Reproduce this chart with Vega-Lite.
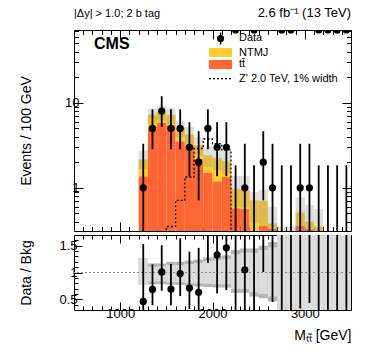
{
  "$schema": "https://vega.github.io/schema/vega-lite/v6.json",
  "padding": {"left": 18, "top": 6, "right": 5, "bottom": 5},
  "background": "white",
  "config": {
    "font": "Liberation Sans",
    "view": {"stroke": "black", "strokeWidth": 1},
    "axis": {"domain": false, "grid": false, "tickColor": "black", "labelColor": "black", "titleColor": "black", "labelFontSize": 13, "titleFontSize": 14, "titleFontWeight": "normal", "tickWidth": 1, "labelFont": "Liberation Sans", "titleFont": "Liberation Sans", "labelOverlap": false}
  },
  "datasets": {
    "bins": [
      {"lo":1200,"hi":1300,"m":1250,"tt":1.37,"tot":2.16,"elo":1.66,"ehi":2.74,"n":1,"nlo":0.17,"nhi":3.3,"r":0.46,"rlo":0.08,"rhi":1.53,"dlo":0.77,"dhi":1.27,"blo":0.77,"bhi":1.27},
      {"lo":1300,"hi":1400,"m":1350,"tt":5.2,"tot":7.3,"elo":5.69,"ehi":8.54,"n":5,"nlo":2.84,"nhi":8.38,"r":0.685,"rlo":0.39,"rhi":1.15,"dlo":0.78,"dhi":1.17,"blo":0.83,"bhi":1.11},
      {"lo":1400,"hi":1500,"m":1450,"tt":5.85,"tot":7.9,"elo":6.16,"ehi":9.24,"n":8,"nlo":5.23,"nhi":11.95,"r":1.01,"rlo":0.66,"rhi":1.51,"dlo":0.78,"dhi":1.17,"blo":0.83,"bhi":1.11},
      {"lo":1500,"hi":1600,"m":1550,"tt":5.45,"tot":7.2,"elo":5.54,"ehi":8.64,"n":5,"nlo":2.84,"nhi":8.38,"r":0.69,"rlo":0.39,"rhi":1.16,"dlo":0.77,"dhi":1.2,"blo":0.82,"bhi":1.14},
      {"lo":1600,"hi":1700,"m":1650,"tt":3.53,"tot":5.1,"elo":3.93,"ehi":6.12,"n":5,"nlo":2.84,"nhi":8.38,"r":0.98,"rlo":0.56,"rhi":1.64,"dlo":0.77,"dhi":1.2,"blo":0.82,"bhi":1.14},
      {"lo":1700,"hi":1800,"m":1750,"tt":3.16,"tot":4.25,"elo":3.19,"ehi":5.19,"n":3,"nlo":1.37,"nhi":5.92,"r":0.71,"rlo":0.32,"rhi":1.39,"dlo":0.75,"dhi":1.22,"blo":0.8,"bhi":1.16},
      {"lo":1800,"hi":1900,"m":1850,"tt":2.2,"tot":3.17,"elo":2.35,"ehi":3.93,"n":2,"nlo":0.71,"nhi":4.64,"r":0.63,"rlo":0.22,"rhi":1.46,"dlo":0.74,"dhi":1.24,"blo":0.79,"bhi":1.18},
      {"lo":1900,"hi":2000,"m":1950,"tt":1.5,"tot":2.41,"elo":1.76,"ehi":3.08,"n":5,"nlo":2.84,"nhi":8.38,"r":2.07,"rlo":1.18,"rhi":3.48,"dlo":0.73,"dhi":1.28,"blo":0.79,"bhi":1.21},
      {"lo":2000,"hi":2100,"m":2050,"tt":1.19,"tot":2.25,"elo":1.62,"ehi":2.93,"n":3,"nlo":1.37,"nhi":5.92,"r":1.33,"rlo":0.61,"rhi":2.63,"dlo":0.72,"dhi":1.3,"blo":0.78,"bhi":1.23},
      {"lo":2100,"hi":2200,"m":2150,"tt":1.34,"tot":2.05,"elo":1.48,"ehi":2.71,"n":3,"nlo":1.37,"nhi":5.92,"r":1.46,"rlo":0.67,"rhi":2.89,"dlo":0.72,"dhi":1.32,"blo":0.78,"bhi":1.25},
      {"lo":2200,"hi":2300,"m":2250,"tt":0.575,"tot":0.97,"elo":0.6,"ehi":1.38,"n":0,"nlo":0.1,"nhi":1.84,"r":0,"rlo":0,"rhi":1.9,"dlo":0.62,"dhi":1.42,"blo":0.69,"bhi":1.34},
      {"lo":2300,"hi":2400,"m":2350,"tt":0.565,"tot":0.95,"elo":0.59,"ehi":1.38,"n":1,"nlo":0.17,"nhi":3.3,"r":1.05,"rlo":0.18,"rhi":3.47,"dlo":0.62,"dhi":1.45,"blo":0.69,"bhi":1.37},
      {"lo":2400,"hi":2500,"m":2450,"tt":0.29,"tot":0.71,"elo":0.39,"ehi":0.9,"n":0,"nlo":0.1,"nhi":1.84,"r":0,"rlo":0,"rhi":2.59,"dlo":0.55,"dhi":1.45,"blo":0.63,"bhi":1.37},
      {"lo":2500,"hi":2600,"m":2550,"tt":0.36,"tot":0.7,"elo":0.36,"ehi":0.95,"n":2,"nlo":0.71,"nhi":4.64,"r":2.86,"rlo":1.01,"rhi":6.6,"dlo":0.52,"dhi":1.5,"blo":0.6,"bhi":1.42},
      {"lo":2600,"hi":2700,"m":2650,"tt":0.33,"tot":0.38,"elo":0.17,"ehi":0.6,"n":1,"nlo":0.17,"nhi":3.3,"r":2.63,"rlo":0.45,"rhi":8.7,"dlo":0.46,"dhi":1.57,"blo":0.55,"bhi":1.47},
      {"lo":2700,"hi":2800,"m":2750,"tt":0.15,"tot":0.2,"elo":0.05,"ehi":0.35,"n":0,"nlo":0.1,"nhi":1.84,"r":0,"rlo":0,"rhi":9.2,"dlo":0.2,"dhi":1.8,"blo":0.2,"bhi":1.8},
      {"lo":2800,"hi":2900,"m":2850,"tt":0.15,"tot":0.2,"elo":0.05,"ehi":0.35,"n":0,"nlo":0.1,"nhi":1.84,"r":0,"rlo":0,"rhi":9.2,"dlo":0.2,"dhi":1.8,"blo":0.2,"bhi":1.8},
      {"lo":2900,"hi":3000,"m":2950,"tt":0.36,"tot":0.51,"elo":0.23,"ehi":0.77,"n":1,"nlo":0.17,"nhi":3.3,"r":1.96,"rlo":0.33,"rhi":6.5,"dlo":0.2,"dhi":1.8,"blo":0.2,"bhi":1.8},
      {"lo":3000,"hi":3100,"m":3050,"tt":0.33,"tot":0.4,"elo":0.18,"ehi":0.63,"n":1,"nlo":0.17,"nhi":3.3,"r":2.5,"rlo":0.43,"rhi":8.25,"dlo":0.2,"dhi":1.8,"blo":0.2,"bhi":1.8},
      {"lo":3100,"hi":3200,"m":3150,"tt":0.31,"tot":0.35,"elo":0.14,"ehi":0.56,"n":0,"nlo":0.1,"nhi":1.84,"r":0,"rlo":0,"rhi":5.3,"dlo":0.2,"dhi":1.8,"blo":0.2,"bhi":1.8},
      {"lo":3200,"hi":3300,"m":3250,"tt":null,"tot":null,"elo":null,"ehi":null,"n":0,"nlo":0.1,"nhi":1.84,"r":null,"rlo":0,"rhi":10,"dlo":0.2,"dhi":1.8,"blo":0.2,"bhi":1.8},
      {"lo":3300,"hi":3400,"m":3350,"tt":null,"tot":null,"elo":null,"ehi":null,"n":0,"nlo":0.1,"nhi":1.84,"r":null,"rlo":0,"rhi":10,"dlo":0.2,"dhi":1.8,"blo":0.2,"bhi":1.8},
      {"lo":3400,"hi":3500,"m":3450,"tt":null,"tot":null,"elo":null,"ehi":null,"n":0,"nlo":0.1,"nhi":1.84,"r":null,"rlo":0,"rhi":10,"dlo":0.2,"dhi":1.8,"blo":0.2,"bhi":1.8}
    ],
    "zprime": [
      {"e":1400,"v":0.1},{"e":1500,"v":0.35},{"e":1600,"v":0.71},{"e":1700,"v":1.34},{"e":1800,"v":2.9},{"e":1900,"v":3.75},{"e":2000,"v":3.3},{"e":2100,"v":2.8},{"e":2200,"v":0.1}
    ]
  },
  "bounds": "flush",
  "spacing": 4,
  "vconcat": [
    {
      "width": 277,
      "height": 201,
      "data": {"name": "bins"},
      "resolve": {"axis": {"x": "independent", "y": "independent"}},
      "layer": [
        {
          "mark": {"type": "rect", "clip": true, "color": "#ff6633"},
          "encoding": {
            "x": {"field": "lo", "type": "quantitative", "scale": {"domain": [500, 3500], "nice": false, "zero": false},
              "axis": {"orient": "bottom", "values": [600,700,800,900,1000,1100,1200,1300,1400,1500,1600,1700,1800,1900,2000,2100,2200,2300,2400,2500,2600,2700,2800,2900,3000,3100,3200,3300,3400], "labels": false, "title": null,
                "tickSize": {"expr": "datum.value % 1000 === 0 ? -9 : -4.5"}}},
            "x2": {"field": "hi"},
            "y": {"field": "tt", "type": "quantitative", "scale": {"type": "log", "domain": [0.31, 72], "nice": false},
              "axis": {"orient": "left", "values": [0.4,0.5,0.6,0.7,0.8,0.9,1,2,3,4,5,6,7,8,9,10,20,30,40,50,60,70], "format": "~g",
                "labelExpr": "datum.value === 1 || datum.value === 10 ? datum.label : ''",
                "tickSize": {"expr": "datum.value === 1 || datum.value === 10 ? -9 : -4.5"},
                "labelPadding": 4, "title": "Events / 100 GeV", "titleX": -41, "titleY": 100.5}},
            "y2": {"datum": 0.1}
          }
        },
        {
          "mark": {"type": "rect", "clip": true, "color": "#ffcc33"},
          "encoding": {
            "x": {"field": "lo", "type": "quantitative",
              "axis": {"orient": "top", "values": [600,700,800,900,1000,1100,1200,1300,1400,1500,1600,1700,1800,1900,2000,2100,2200,2300,2400,2500,2600,2700,2800,2900,3000,3100,3200,3300,3400], "labels": false, "title": null,
                "tickSize": {"expr": "datum.value % 1000 === 0 ? -9 : -4.5"}}},
            "x2": {"field": "hi"},
            "y": {"field": "tot", "type": "quantitative",
              "axis": {"orient": "right", "values": [0.4,0.5,0.6,0.7,0.8,0.9,1,2,3,4,5,6,7,8,9,10,20,30,40,50,60,70], "labels": false, "title": null,
                "tickSize": {"expr": "datum.value === 1 || datum.value === 10 ? -9 : -4.5"}}},
            "y2": {"field": "tt"}
          }
        },
        {
          "mark": {"type": "rect", "clip": true, "color": "#8c8c8c", "opacity": 0.28},
          "encoding": {
            "x": {"field": "lo", "type": "quantitative", "axis": null},
            "x2": {"field": "hi"},
            "y": {"field": "elo", "type": "quantitative", "axis": null},
            "y2": {"field": "ehi"}
          }
        },
        {
          "data": {"name": "zprime"},
          "mark": {"type": "line", "clip": true, "interpolate": "step-after", "strokeDash": [2, 2], "strokeWidth": 1.3, "color": "black"},
          "encoding": {
            "x": {"field": "e", "type": "quantitative", "axis": null},
            "y": {"field": "v", "type": "quantitative", "axis": null}
          }
        },
        {
          "mark": {"type": "rule", "clip": true, "color": "black", "strokeWidth": 1.8},
          "encoding": {
            "x": {"field": "m", "type": "quantitative", "axis": null},
            "y": {"field": "nlo", "type": "quantitative", "axis": null},
            "y2": {"field": "nhi"}
          }
        },
        {
          "mark": {"type": "point", "filled": true, "clip": true, "size": 52, "opacity": 1, "color": "black"},
          "encoding": {
            "x": {"field": "m", "type": "quantitative", "axis": null},
            "y": {"field": "n", "type": "quantitative", "axis": null}
          }
        },
        {
          "data": {"values": [{"t": "Data"}]},
          "mark": {"type": "rule", "color": "black", "strokeWidth": 1.5},
          "encoding": {
            "x": {"datum": 2087, "type": "quantitative", "axis": null},
            "y": {"datum": 48.6, "type": "quantitative", "axis": null},
            "y2": {"datum": 67.3}
          }
        },
        {
          "data": {"values": [{"t": "Data"}]},
          "mark": {"type": "point", "filled": true, "size": 52, "opacity": 1, "color": "black"},
          "encoding": {
            "x": {"datum": 2087, "type": "quantitative", "axis": null},
            "y": {"datum": 57.2, "type": "quantitative", "axis": null}
          }
        },
        {
          "data": {"values": [{"t": "NTMJ"}]},
          "mark": {"type": "rect", "color": "#ffcc33"},
          "encoding": {
            "x": {"datum": 1962, "type": "quantitative", "axis": null},
            "x2": {"datum": 2211},
            "y": {"datum": 34.6, "type": "quantitative", "axis": null},
            "y2": {"datum": 44.2}
          }
        },
        {
          "data": {"values": [{"t": "tt\u0304"}]},
          "mark": {"type": "rect", "color": "#ff6633"},
          "encoding": {
            "x": {"datum": 1962, "type": "quantitative", "axis": null},
            "x2": {"datum": 2211},
            "y": {"datum": 25.0, "type": "quantitative", "axis": null},
            "y2": {"datum": 32.0}
          }
        },
        {
          "data": {"values": [{"t": "Z'"}]},
          "mark": {"type": "rule", "color": "black", "strokeWidth": 1.3, "strokeDash": [2, 2]},
          "encoding": {
            "x": {"datum": 1962, "type": "quantitative", "axis": null},
            "x2": {"datum": 2211},
            "y": {"datum": 19.3, "type": "quantitative", "axis": null}
          }
        },
        {
          "data": {"values": [{"t": "Data"}]},
          "mark": {"type": "text", "align": "left", "baseline": "middle", "fontSize": 11, "font": "Liberation Sans", "color": "black"},
          "encoding": {
            "x": {"datum": 2287, "type": "quantitative", "axis": null},
            "y": {"datum": 57.2, "type": "quantitative", "axis": null},
            "text": {"field": "t"}
          }
        },
        {
          "data": {"values": [{"t": "NTMJ"}]},
          "mark": {"type": "text", "align": "left", "baseline": "middle", "fontSize": 11, "font": "Liberation Sans", "color": "black"},
          "encoding": {
            "x": {"datum": 2287, "type": "quantitative", "axis": null},
            "y": {"datum": 39.1, "type": "quantitative", "axis": null},
            "text": {"field": "t"}
          }
        },
        {
          "data": {"values": [{"t": "tt\u0304"}]},
          "mark": {"type": "text", "align": "left", "baseline": "middle", "fontSize": 11, "font": "Liberation Sans", "color": "black"},
          "encoding": {
            "x": {"datum": 2287, "type": "quantitative", "axis": null},
            "y": {"datum": 28.3, "type": "quantitative", "axis": null},
            "text": {"field": "t"}
          }
        },
        {
          "data": {"values": [{"t": "Z' 2.0 TeV, 1% width"}]},
          "mark": {"type": "text", "align": "left", "baseline": "middle", "fontSize": 11, "font": "Liberation Sans", "color": "black"},
          "encoding": {
            "x": {"datum": 2287, "type": "quantitative", "axis": null},
            "y": {"datum": 19.3, "type": "quantitative", "axis": null},
            "text": {"field": "t"}
          }
        },
        {
          "data": {"values": [{"t": "CMS"}]},
          "mark": {"type": "text", "align": "left", "baseline": "middle", "fontSize": 16, "fontWeight": "bold", "font": "Liberation Sans", "color": "black"},
          "encoding": {
            "x": {"datum": 717, "type": "quantitative", "axis": null},
            "y": {"datum": 49, "type": "quantitative", "axis": null},
            "text": {"field": "t"}
          }
        },
        {
          "data": {"values": [{"t": "|\u0394y| > 1.0; 2 b tag"}]},
          "mark": {"type": "text", "align": "left", "baseline": "alphabetic", "dy": -13, "fontSize": 11, "font": "Liberation Sans", "color": "black"},
          "encoding": {
            "x": {"datum": 500, "type": "quantitative", "axis": null},
            "y": {"datum": 72, "type": "quantitative", "axis": null},
            "text": {"field": "t"}
          }
        },
        {
          "data": {"values": [{"t": "2.6 fb\u207b\u00b9 (13 TeV)"}]},
          "mark": {"type": "text", "align": "right", "baseline": "alphabetic", "dy": -13, "fontSize": 13, "font": "Liberation Sans", "color": "black"},
          "encoding": {
            "x": {"datum": 3500, "type": "quantitative", "axis": null},
            "y": {"datum": 72, "type": "quantitative", "axis": null},
            "text": {"field": "t"}
          }
        }
      ]
    },
    {
      "width": 277,
      "height": 75,
      "data": {"name": "bins"},
      "resolve": {"axis": {"x": "independent", "y": "independent"}},
      "layer": [
        {
          "mark": {"type": "rect", "clip": true, "color": "#b4b4b4"},
          "encoding": {
            "x": {"field": "lo", "type": "quantitative", "scale": {"domain": [500, 3500], "nice": false, "zero": false},
              "axis": {"orient": "bottom", "values": [600,700,800,900,1000,1100,1200,1300,1400,1500,1600,1700,1800,1900,2000,2100,2200,2300,2400,2500,2600,2700,2800,2900,3000,3100,3200,3300,3400], "format": "d",
                "labelExpr": "datum.value % 1000 === 0 ? datum.label : ''",
                "tickSize": {"expr": "datum.value % 1000 === 0 ? -8 : -4"},
                "labelPadding": 5, "title": "M\u209c\u209c\u0304 [GeV]", "titleAnchor": "end", "titlePadding": 4}},
            "x2": {"field": "hi"},
            "y": {"field": "dlo", "type": "quantitative", "scale": {"domain": [0.3, 1.7], "nice": false, "zero": false},
              "axis": {"orient": "left", "values": [0.4,0.5,0.6,0.7,0.8,0.9,1,1.1,1.2,1.3,1.4,1.5,1.6], "format": "~g",
                "labelExpr": "datum.value === 0.5 || datum.value === 1 || datum.value === 1.5 ? datum.label : ''",
                "tickSize": {"expr": "datum.value === 0.5 || datum.value === 1 || datum.value === 1.5 ? -8 : -4"},
                "labelPadding": 5, "title": "Data / Bkg", "titleX": -41, "titleY": 37.5}},
            "y2": {"field": "dhi"}
          }
        },
        {
          "mark": {"type": "rect", "clip": true, "color": "#dcdcdc"},
          "encoding": {
            "x": {"field": "lo", "type": "quantitative", "axis": null},
            "x2": {"field": "hi"},
            "y": {"field": "blo", "type": "quantitative", "axis": null},
            "y2": {"field": "bhi"}
          }
        },
        {
          "mark": {"type": "rule", "color": "#888888", "strokeDash": [2, 2], "strokeWidth": 1},
          "encoding": {
            "y": {"datum": 1, "type": "quantitative", "axis": null}
          }
        },
        {
          "mark": {"type": "rule", "clip": true, "color": "black", "strokeWidth": 1.8},
          "encoding": {
            "x": {"field": "m", "type": "quantitative",
              "axis": {"orient": "top", "values": [600,700,800,900,1000,1100,1200,1300,1400,1500,1600,1700,1800,1900,2000,2100,2200,2300,2400,2500,2600,2700,2800,2900,3000,3100,3200,3300,3400], "labels": false, "title": null,
                "tickSize": {"expr": "datum.value % 1000 === 0 ? -8 : -4"}}},
            "y": {"field": "rlo", "type": "quantitative",
              "axis": {"orient": "right", "values": [0.4,0.5,0.6,0.7,0.8,0.9,1,1.1,1.2,1.3,1.4,1.5,1.6], "labels": false, "title": null,
                "tickSize": {"expr": "datum.value === 0.5 || datum.value === 1 || datum.value === 1.5 ? -8 : -4"}}},
            "y2": {"field": "rhi"}
          }
        },
        {
          "mark": {"type": "point", "filled": true, "clip": true, "size": 52, "opacity": 1, "color": "black"},
          "encoding": {
            "x": {"field": "m", "type": "quantitative", "axis": null},
            "y": {"field": "r", "type": "quantitative", "axis": null}
          }
        }
      ]
    }
  ]
}
